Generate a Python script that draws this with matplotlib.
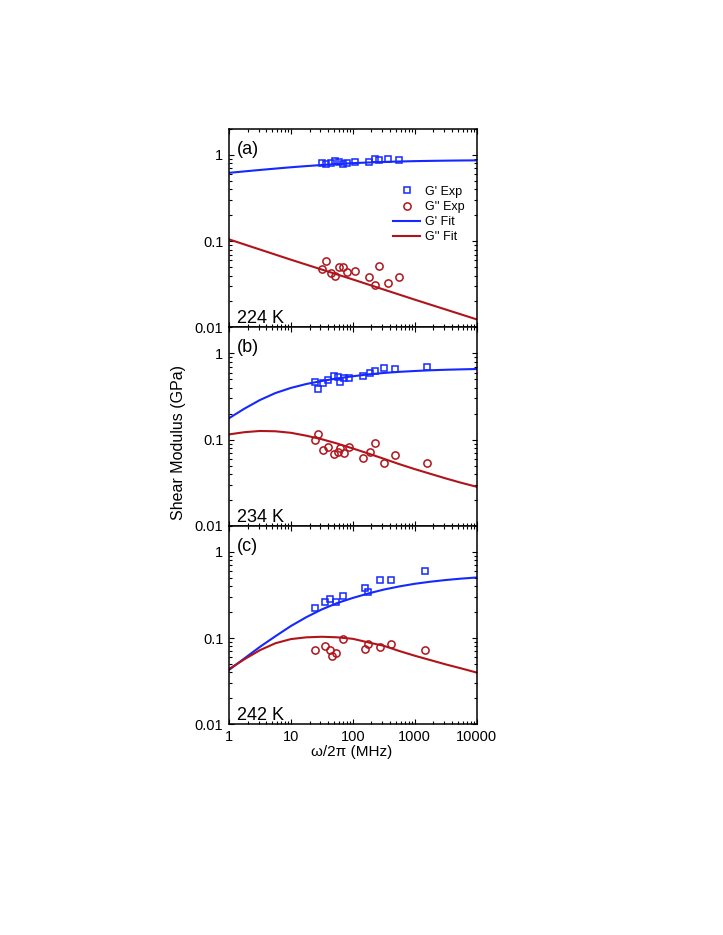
import matplotlib
matplotlib.use("Agg")
import matplotlib.pyplot as plt
from matplotlib.ticker import LogLocator, NullFormatter
from matplotlib.lines import Line2D

plt.rcParams['font.family'] = ['Liberation Sans', 'DejaVu Sans']

# ---------------- data ----------------
temps = ["224 K", "234 K", "242 K"]
panel_labels = ["(a)", "(b)", "(c)"]

# panel (a) 224 K
a_exp_f = [31.4, 36.9, 44.0, 52.2, 60.5, 68.7, 80.6, 107, 181, 231, 268, 371, 557]
a_gp_exp = [0.80, 0.78, 0.81, 0.85, 0.83, 0.79, 0.80, 0.82, 0.83, 0.89, 0.88, 0.89, 0.88]
a_gpp_f = [31.4, 36.9, 44.0, 52.2, 60.5, 68.7, 80.6, 107, 181, 231, 268, 371, 557]
a_gpp_exp = [0.0482, 0.0597, 0.0425, 0.0397, 0.0499, 0.0499, 0.0437, 0.0454,
             0.0386, 0.0309, 0.0509, 0.0326, 0.0389]

# panel (b) 234 K
b_exp_f = [24.8, 27.1, 33.0, 40.2, 49.1, 58.3, 61.4, 72.1, 86.8, 148, 190, 228, 319, 481, 1581]
b_gp_exp = [0.466, 0.389, 0.450, 0.488, 0.551, 0.537, 0.470, 0.523, 0.523, 0.547,
            0.597, 0.630, 0.677, 0.659, 0.695]
b_gpp_exp = [0.0989, 0.115, 0.0757, 0.0814, 0.0680, 0.0718, 0.0793, 0.0705, 0.0814,
             0.0607, 0.0713, 0.0920, 0.0531, 0.0663, 0.0531]

# panel (c) 242 K
c_gp_f = [24.5, 35.6, 42.8, 52.9, 68.7, 156, 174, 272, 410, 1466]
c_gp_exp = [0.222, 0.264, 0.286, 0.262, 0.308, 0.381, 0.340, 0.476, 0.469, 0.600]
c_gpp_f = [24.5, 35.6, 42.8, 46.6, 52.9, 68.7, 156, 174, 272, 410, 1466]
c_gpp_exp = [0.0728, 0.081, 0.0728, 0.0625, 0.0677, 0.0968, 0.0741, 0.0848,
             0.0782, 0.0848, 0.0728]

# fit curves (at quarter-decade steps)
fit_f = [1, 1.78, 3.16, 5.62, 10, 17.8, 31.6, 56.2, 100, 178, 316, 562,
         1000, 1778, 3162, 5623, 10000]
a_gp_fit = [0.620, 0.645, 0.670, 0.695, 0.720, 0.743, 0.765, 0.785, 0.803, 0.818,
            0.830, 0.840, 0.848, 0.854, 0.859, 0.863, 0.866]
a_gpp_fit_f = [1, 10, 100, 1000, 10000]
a_gpp_fit = [0.105, 0.061, 0.036, 0.021, 0.0124]
b_gp_fit = [0.177, 0.229, 0.288, 0.347, 0.398, 0.442, 0.479, 0.513, 0.543, 0.571,
            0.593, 0.611, 0.625, 0.637, 0.646, 0.653, 0.659]
b_gpp_fit = [0.115, 0.122, 0.126, 0.125, 0.120, 0.111, 0.101, 0.090, 0.079, 0.069,
             0.060, 0.052, 0.0455, 0.0402, 0.0355, 0.0316, 0.0284]
c_gp_fit = [0.0427, 0.0582, 0.0791, 0.105, 0.138, 0.175, 0.215, 0.255, 0.292, 0.329,
            0.365, 0.397, 0.426, 0.450, 0.471, 0.489, 0.504]
c_gpp_fit = [0.0437, 0.0569, 0.0724, 0.0871, 0.0973, 0.102, 0.1035, 0.102, 0.098,
             0.089, 0.0813, 0.0708, 0.0624, 0.0556, 0.0495, 0.0445, 0.0398]

x_ticks = [1, 10, 100, 1000, 10000]
x_ticklabels = ["1", "10", "100", "1000", "10000"]
y_ticks = [0.01, 0.1, 1]
y_ticklabels = ["0.01", "0.1", "1"]

BLUE = "#1428ff"
RED = "#b0141a"

panels = [
    dict(gp_f=a_exp_f, gp=a_gp_exp, gpp_f=a_gpp_f, gpp=a_gpp_exp,
         gp_fit_f=fit_f, gp_fit=a_gp_fit, gpp_fit_f=a_gpp_fit_f, gpp_fit=a_gpp_fit),
    dict(gp_f=b_exp_f, gp=b_gp_exp, gpp_f=b_exp_f, gpp=b_gpp_exp,
         gp_fit_f=fit_f, gp_fit=b_gp_fit, gpp_fit_f=fit_f, gpp_fit=b_gpp_fit),
    dict(gp_f=c_gp_f, gp=c_gp_exp, gpp_f=c_gpp_f, gpp=c_gpp_exp,
         gp_fit_f=fit_f, gp_fit=c_gp_fit, gpp_fit_f=fit_f, gpp_fit=c_gpp_fit),
]

fig = plt.figure(figsize=(7.23, 9.35), dpi=100)
W, H = 723.0, 935.0
left_px, right_px = 229.0, 476.7
top_px, bot_px = 129.0, 724.3
ph = (bot_px - top_px) / 3.0

for i, p in enumerate(panels):
    y_top = top_px + i * ph
    ax = fig.add_axes([left_px / W, 1 - (y_top + ph) / H,
                       (right_px - left_px) / W, ph / H])
    ax.set_xscale("log")
    ax.set_yscale("log")
    ax.set_xlim(1, 10000)
    ax.set_ylim(0.01, 2)

    ax.plot(p["gp_fit_f"], p["gp_fit"], color=BLUE, lw=1.5, zorder=2,
            solid_joinstyle="round")
    ax.plot(p["gpp_fit_f"], p["gpp_fit"], color=RED, lw=1.5, zorder=2,
            solid_joinstyle="round")
    ax.plot(p["gp_f"], p["gp"], ls="none", marker="s", ms=5, mfc="none",
            mec=BLUE, mew=1.1, zorder=3)
    ax.plot(p["gpp_f"], p["gpp"], ls="none", marker="o", ms=5.2, mfc="none",
            mec=RED, mew=1.1, zorder=3)

    ax.xaxis.set_minor_locator(LogLocator(base=10, subs=range(2, 10), numticks=20))
    ax.yaxis.set_minor_locator(LogLocator(base=10, subs=range(2, 10), numticks=20))
    ax.xaxis.set_minor_formatter(NullFormatter())
    ax.yaxis.set_minor_formatter(NullFormatter())
    ax.set_yticks(y_ticks)
    ax.set_yticklabels(y_ticklabels)
    ax.set_xticks(x_ticks)
    if i == 2:
        ax.set_xticklabels(x_ticklabels)
    else:
        ax.set_xticklabels([])
    ax.tick_params(which="both", direction="in", top=True, right=True,
                   labelsize=10.5, width=0.8)
    ax.tick_params(which="major", length=3.5, pad=4)
    ax.tick_params(which="minor", length=2)
    for s in ax.spines.values():
        s.set_linewidth(1.1)

    ax.text(0.03, 0.875, panel_labels[i], transform=ax.transAxes,
            fontsize=13, ha="left", va="baseline")
    ax.text(0.031, 0.022, temps[i], transform=ax.transAxes,
            fontsize=13, ha="left", va="baseline")

    if i == 0:
        handles = [
            Line2D([], [], ls="none", marker="s", ms=5, mfc="none", mec=BLUE, mew=1.1),
            Line2D([], [], ls="none", marker="o", ms=5.2, mfc="none", mec=RED, mew=1.1),
            Line2D([], [], color=BLUE, lw=1.5),
            Line2D([], [], color=RED, lw=1.5),
        ]
        ax.legend(handles, ["G' Exp", "G'' Exp", "G' Fit", "G'' Fit"],
                  loc="center", bbox_to_anchor=(0.807, 0.569), frameon=False,
                  fontsize=9, handlelength=2.2, handletextpad=0.4,
                  labelspacing=0.25, borderpad=0.2, numpoints=1)

fig.text(178 / W, 1 - 442.5 / H, "Shear Modulus (GPa)", rotation=90,
         ha="center", va="center", fontsize=11.5)
fig.text(352 / W, 1 - 752 / H, "ω/2π (MHz)", ha="center", va="center",
         fontsize=11)

fig.savefig("out.png", dpi=100)
